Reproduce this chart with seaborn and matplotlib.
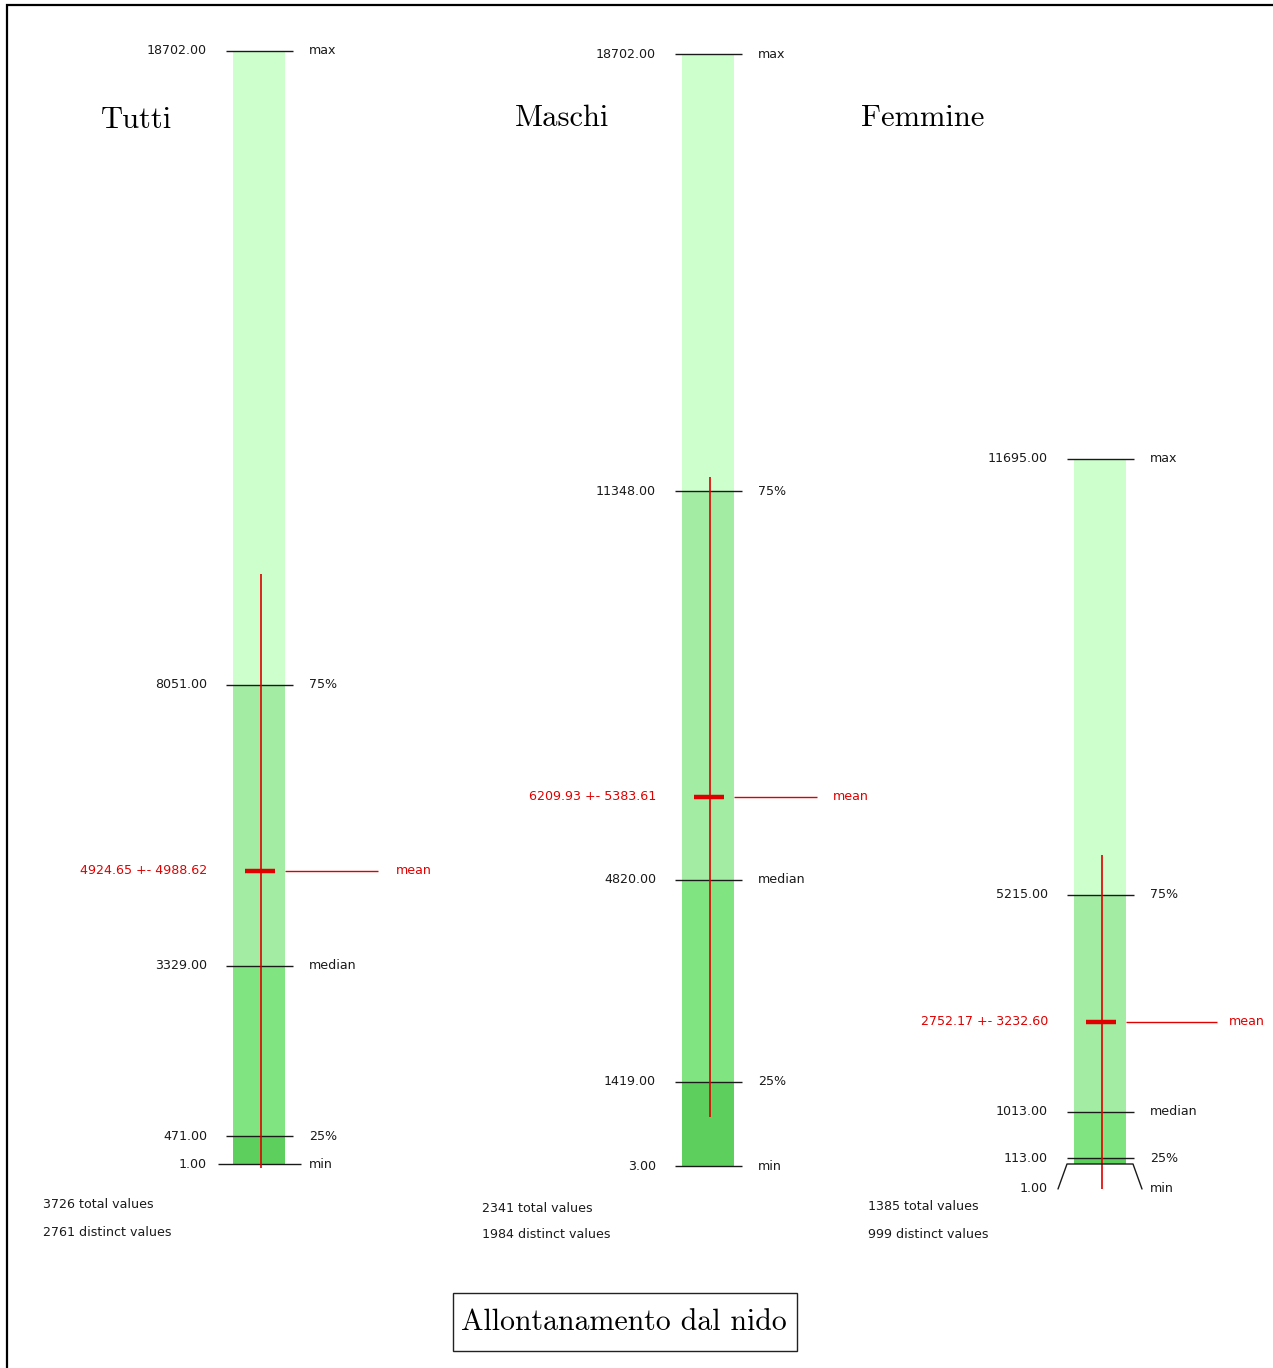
import numpy as np
import pandas as pd
import matplotlib
matplotlib.use("Agg")
import matplotlib.pyplot as plt
from matplotlib.scale import FuncScale
from matplotlib.patches import Rectangle
import seaborn as sns

# ---- data -----------------------------------------------------------------
groups = ["Tutti", "Maschi", "Femmine"]
mins = [1.00, 3.00, 1.00]
q1s = [471.00, 1419.00, 113.00]
medians = [3329.00, 4820.00, 1013.00]
q3s = [8051.00, 11348.00, 5215.00]
maxs = [18702.00, 18702.00, 11695.00]
means = [4924.65, 6209.93, 2752.17]
stds = [4988.62, 5383.61, 3232.60]
totals = [3726, 2341, 1385]
distincts = [2761, 1984, 999]
main_title = "Allontanamento dal nido"

# ---- layout (figure pixels, measured from the top-left corner) -----------
W, H = 1273, 1368
centers = [259, 708, 1100]
title_pos = [(137, 120), (562, 118), (923, 118)]
stats_pos = [(43, 1205), (482, 1208), (868, 1207)]
mean_len = [93, 83, 91]
mean_gap = [18, 16, 12]
bar_w = 52


def lin_px(v, v0, p0, v1, p1):
    return p0 + (v - v0) * (p1 - p0) / (v1 - v0)


# value -> pixel anchors of each column's vertical scale; the last column is
# linear through its lower quartiles and its upper whisker, compressed above
f_hi = means[2] + stds[2]
scale_anchors = [
    ([mins[0], maxs[0]], [1164, 51]),
    ([mins[1], maxs[1]], [1166, 54]),
    ([q1s[2], f_hi, maxs[2]],
     [1158, lin_px(f_hi, q1s[2], 1158, q3s[2], 895), 459]),
]

c_top = "#ccffcc"
c_q3 = "#a3eca3"
c_med = "#80e480"
c_q1 = "#5ccf5c"
red = "#e00000"
ink = "#1a1a1a"

sns.set_theme(style="white")
plt.rcParams["font.family"] = ["DejaVu Sans"]
small = dict(fontsize=9.1, color=ink)


def piecewise(x, xp, fp):
    x = np.asarray(x, dtype=float)
    y = np.interp(x, xp, fp)
    lo = x < xp[0]
    hi = x > xp[-1]
    y = np.where(lo, fp[0] + (x - xp[0]) * (fp[1] - fp[0]) / (xp[1] - xp[0]), y)
    y = np.where(hi, fp[-1] + (x - xp[-1]) * (fp[-1] - fp[-2]) / (xp[-1] - xp[-2]), y)
    return y


def make_scale(vals, pxs):
    vals = np.asarray(vals, float)
    pxs = np.asarray(pxs, float)

    def forward(v):
        return -piecewise(v, vals, pxs)

    def inverse(t):
        return piecewise(-np.asarray(t, float), pxs[::-1], vals[::-1])

    return forward, inverse


fig = plt.figure(figsize=(W / 100, H / 100), dpi=100)
fig.patch.set_facecolor("white")

# pixel-space overlay for titles, frame and footnotes
pax = fig.add_axes([0, 0, 1, 1], zorder=5)
pax.set_xlim(0, W)
pax.set_ylim(H, 0)
pax.axis("off")
pax.patch.set_alpha(0)

for i, g in enumerate(groups):
    cx = centers[i]
    fwd, inv = make_scale(*scale_anchors[i])
    ax = fig.add_axes([0, 0, 1, 1], zorder=2 + i)
    ax.patch.set_alpha(0)
    ax.set_yscale(FuncScale(ax.yaxis, (fwd, inv)))

    # stacked quartile segments, tallest first
    seg = pd.DataFrame({
        "x": [cx] * 4,
        "v": [maxs[i], q3s[i], medians[i], q1s[i]],
        "c": [c_top, c_q3, c_med, c_q1],
    })
    for _, r in seg.iterrows():
        sns.barplot(x=[r["x"]], y=[r["v"]], native_scale=True, width=bar_w,
                    color=r["c"], saturation=1, errorbar=None, linewidth=0,
                    ax=ax)

    ax.set_xlim(0, W)
    ax.set_ylim(float(inv(-H)), float(inv(0)))
    ax.axis("off")

    # quartile ticks and labels
    ticks = [(maxs[i], "max"), (q3s[i], "75%"), (medians[i], "median"),
             (q1s[i], "25%")]
    if i < 2:
        ticks.append((mins[i], "min"))
    for v, lab in ticks:
        half = 41 if (lab == "min" and i == 0) else 33
        ax.hlines(v, cx - half, cx + half + 1, color=ink, lw=1.0, zorder=4)
        ax.text(cx - 52, v, f"{v:.2f}", ha="right", va="center", **small)
        ax.text(cx + 50, v, lab, ha="left", va="center", **small)

    # mean +- std
    m, s = means[i], stds[i]
    ax.vlines(cx + 1.5, m - s, m + s, color=red, lw=1.2, zorder=5)
    ax.hlines(m, cx - 14, cx + 16, color=red, lw=3.2, zorder=6)
    ax.hlines(m, cx + 26, cx + 26 + mean_len[i], color=red, lw=1.0, zorder=5)
    ax.text(cx - 52, m, f"{m:.2f} +- {s:.2f}", ha="right", va="center",
            fontsize=small["fontsize"], color=red)
    ax.text(cx + 26 + mean_len[i] + mean_gap[i], m, "mean", ha="left",
            va="center", fontsize=small["fontsize"], color=red)

    # column title and counts
    tx, ty = title_pos[i]
    pax.text(tx, ty, g, ha="center", va="center", fontsize=22,
             family="cmr10", color="black")
    sx, sy = stats_pos[i]
    pax.text(sx, sy, f"{totals[i]} total values", ha="left", va="center",
             **small)
    pax.text(sx, sy + 27, f"{distincts[i]} distinct values", ha="left",
             va="center", **small)

# off-scale minimum of the last column, joined to the bar base by a bracket
cx = centers[2]
pax.plot([cx - 42, cx - 33, cx + 33, cx + 42],
         [1189, 1164, 1164, 1189], color=ink, lw=1.0)
pax.text(cx - 52, 1188, f"{mins[2]:.2f}", ha="right", va="center", **small)
pax.text(cx + 50, 1188, "min", ha="left", va="center", **small)

# outer frame (left and top edges)
pax.plot([7, 7, W], [H, 5, 5], color="black", lw=1.6,
         solid_joinstyle="miter")

# boxed chart title
pax.add_patch(Rectangle((453, 1293), 344, 58, fill=False, ec="#222222",
                        lw=1.0))
pax.text(624, 1322, main_title, ha="center", va="center", fontsize=21.5,
         family="cmr10", color="black")

fig.savefig("out.png", dpi=100, facecolor="white")
